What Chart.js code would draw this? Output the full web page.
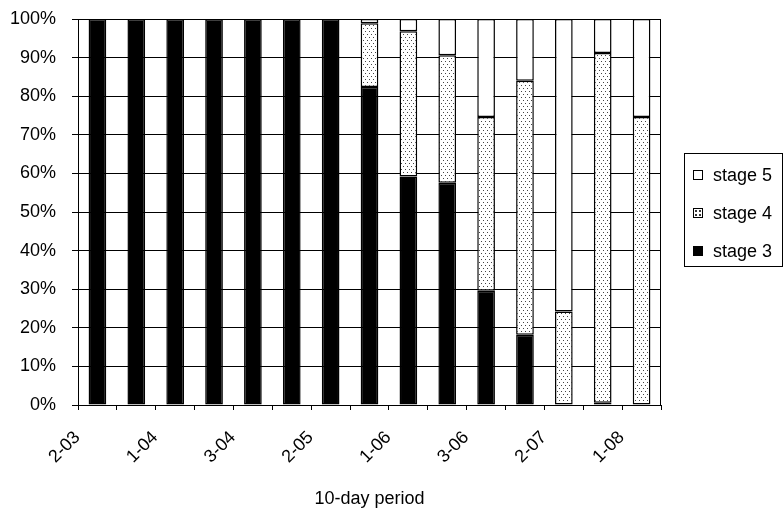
<!DOCTYPE html>
<html>
<head>
<meta charset="utf-8">
<script src="https://cdn.jsdelivr.net/npm/chart.js@4/dist/chart.umd.min.js"></script>
<style>
    html, body { margin: 0; padding: 0; background: #fff; }
    #wrap { position: relative; width: 784px; height: 513px; }
    #legend {
        position: absolute; left: 684px; top: 153px; width: 99px; height: 114px;
        border: 1px solid #000; box-sizing: border-box;
        font-family: "Liberation Sans", Arial, sans-serif; font-size: 18px; color: #000;
    }
    .item { position: absolute; left: 8px; height: 20px; line-height: 20px; white-space: nowrap; }
    .box { display: inline-block; width: 8px; height: 8px; border: 1.5px solid #000; margin-right: 10px; vertical-align: 1px; }
</style>
</head>
<body>
<div id="wrap">
    <canvas id="c" width="784" height="513"></canvas>
    <div id="legend"></div>
</div>
<script>
const periods = ['2-03', '3-03', '1-04', '2-04', '3-04', '1-05', '2-05', '3-05',
    '1-06', '2-06', '3-06', '1-07', '2-07', '3-07', '1-08'];
const stage3 = [100, 100, 100, 100, 100, 100, 100, 82.4, 59.2, 57.6, 29.6, 18.2, null, 0.6, null];
const stage4 = [null, null, null, null, null, null, null, 16.5, 37.6, 33.0, 45.0, 65.8, 24.2, 90.6, 74.6];
const stage5 = [null, null, null, null, null, null, null, 1.1, 3.2, 9.4, 25.4, 16.0, 75.8, 8.8, 25.4];
const yTicks = [0, 10, 20, 30, 40, 50, 60, 70, 80, 90, 100];

function dotPattern() {
    const p = document.createElement('canvas');
    p.width = 4; p.height = 6;
    const g = p.getContext('2d');
    g.fillStyle = '#fff';
    g.fillRect(0, 0, 4, 6);
    g.fillStyle = '#444';
    g.fillRect(1, 1, 1, 1);
    g.fillRect(3, 4, 1, 1);
    return document.getElementById('c').getContext('2d').createPattern(p, 'repeat');
}

const series = [
    { label: 'stage 3', data: stage3, fill: '#000' },
    { label: 'stage 4', data: stage4, fill: dotPattern() },
    { label: 'stage 5', data: stage5, fill: '#fff' }
];

const frame = {
    id: 'frame',
    afterDraw(chart) {
        const { ctx, chartArea: a } = chart;
        ctx.save();
        ctx.strokeStyle = '#000';
        ctx.lineWidth = 1;
        ctx.beginPath();
        ctx.moveTo(a.left, a.top + 0.5);
        ctx.lineTo(a.right - 0.5, a.top + 0.5);
        ctx.lineTo(a.right - 0.5, a.bottom);
        ctx.stroke();
        ctx.restore();
    }
};

const font = { family: '"Liberation Sans", Arial, sans-serif', size: 18 };

new Chart(document.getElementById('c'), {
    type: 'bar',
    data: {
        labels: periods,
        datasets: series.map(s => ({
            label: s.label,
            data: s.data,
            backgroundColor: s.fill,
            borderColor: '#000',
            borderWidth: 1.5,
            borderSkipped: false,
            barPercentage: 0.455,
            categoryPercentage: 1
        }))
    },
    options: {
        responsive: false,
        animation: false,
        devicePixelRatio: 1,
        layout: { padding: { left: 0, right: 123, top: 19, bottom: 0 } },
        plugins: { legend: { display: false }, tooltip: { enabled: false } },
        scales: {
            x: {
                stacked: true,
                offset: true,
                afterFit: s => { s.height = 108; },
                grid: { offset: true, drawOnChartArea: false, drawTicks: true, tickLength: 5, color: '#000' },
                border: { display: true, color: '#000', width: 1 },
                ticks: {
                    autoSkip: false,
                    minRotation: 45,
                    maxRotation: 45,
                    padding: 17,
                    labelOffset: -20,
                    color: '#000',
                    font,
                    callback: (v, i) => (i % 2 === 0 ? periods[i] : '')
                },
                title: { display: true, text: '10-day period', color: '#000', font, padding: { top: 0, bottom: 3 } }
            },
            y: {
                stacked: true,
                min: 0,
                max: 100,
                afterFit: s => { s.width = 78; s.paddingTop = 0; s.paddingBottom = 0; },
                afterBuildTicks: s => { s.ticks = yTicks.map(v => ({ value: v })); },
                grid: { color: '#000', lineWidth: 1, tickLength: 6, drawTicks: true },
                border: { display: true, color: '#000', width: 1 },
                ticks: { padding: 16, color: '#000', font, callback: v => v + '%' }
            }
        }
    },
    plugins: [frame]
});

// legend box on the right, top item is the top of the stack
const legend = document.getElementById('legend');
const legendTop = [11, 49, 87];
const legendBg = ['#fff', '#fff', '#000'];
['stage 5', 'stage 4', 'stage 3'].forEach((name, i) => {
    const item = document.createElement('div');
    item.className = 'item';
    item.style.top = legendTop[i] + 'px';
    const box = document.createElement('span');
    box.className = 'box';
    box.style.background = legendBg[i];
    if (name === 'stage 4') {
        box.style.backgroundImage = 'radial-gradient(#333 0.7px, transparent 1px)';
        box.style.backgroundSize = '4px 4px';
    }
    item.appendChild(box);
    item.appendChild(document.createTextNode(name));
    legend.appendChild(item);
});
</script>
</body>
</html>
